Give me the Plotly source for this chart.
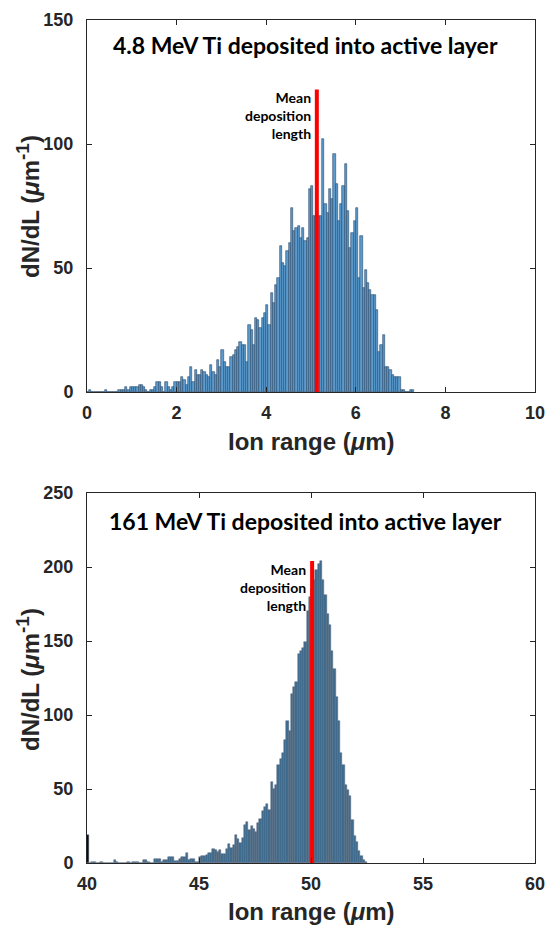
import numpy as np
import plotly.graph_objects as go

# ---------------- data ----------------
# Top panel: 4.8 MeV Ti, bins of 0.05 um starting at 0
top_bin_start = 0.0
top_bin_width = 0.05
top_values = [
    0, 1, 0, 0, 0, 0, 0, 0, 1, 0,
    0, 0, 0, 0, 1, 1, 1, 2, 1, 2,
    2, 2, 2, 3, 3, 2, 1, 0, 1, 1,
    2, 4, 4, 2, 0, 4, 2, 1, 2, 4,
    4, 4, 6, 5, 3, 6, 10, 4, 9, 7,
    7, 9, 8, 7, 6, 11, 8, 7, 13, 10,
    17, 12, 10, 10, 14, 15, 17, 18, 20, 19,
    19, 12, 27, 25, 19, 30, 29, 26, 30, 32,
    35, 27, 40, 36, 43, 46, 59, 52, 51, 57,
    60, 74, 65, 66, 67, 62, 66, 61, 62, 82,
    83, 71, 71, 71, 71, 102, 76, 72, 82, 78,
    96, 84, 69, 76, 83, 92, 73, 58, 64, 69,
    74, 46, 63, 42, 49, 44, 41, 39, 39, 33,
    16, 19, 23, 10, 10, 9, 7, 6, 6, 6,
    1, 1, 0, 0, 1, 1,
]
top_mean = 5.13
top_mean_height = 122

# Bottom panel: 161 MeV Ti, bins of 0.1 um starting at 40
bot_bin_start = 40.0
bot_bin_width = 0.1
bot_values = [
    19, 0, 1, 1, 0, 0, 1, 0, 0, 0,
    0, 0, 2, 1, 0, 0, 0, 0, 1, 0,
    1, 1, 1, 0, 0, 2, 2, 1, 0, 0,
    2.5, 2.5, 2.5, 1, 2, 2, 4, 4, 4, 1.5,
    1.5, 2.5, 4, 4, 6.5, 2, 2.5, 2.5, 1, 1,
    4, 4.7, 4.7, 5.4, 6.5, 6.5, 9.7, 8.8, 7.7, 8.8,
    6, 6, 9.2, 12.8, 10, 12, 19, 16, 13.7, 16.7,
    26, 28, 22, 25, 23, 21, 27, 30, 35, 38,
    40, 36, 55, 50, 53, 66, 70, 74, 83, 96,
    89, 114, 119, 122, 141, 143, 145, 149, 170, 180,
    185, 191, 198, 202, 204, 191, 181, 168, 161, 143,
    131, 112, 96, 74, 66, 53, 49, 45, 29, 18,
    14, 8, 4.5, 2.3, 1,
]
bot_mean = 50.05
bot_mean_height = 204

top_title = "4.8 MeV Ti deposited into active layer"
bot_title = "161 MeV Ti deposited into active layer"
mean_label = "Mean<br>deposition<br>length"
x_title = "Ion range (<i>\u03bc</i>m)"
y_title = ("dN/dL (<i>\u03bc</i>m<sup><span style='font-size:19px'>-1</span></sup>)")

top_xticks = [0, 2, 4, 6, 8, 10]
top_yticks = [0, 50, 100, 150]
bot_xticks = [40, 45, 50, 55, 60]
bot_yticks = [0, 50, 100, 150, 200, 250]

# ---------------- figure ----------------
top_x = top_bin_start + top_bin_width * (np.arange(len(top_values)) + 0.5)
bot_x = bot_bin_start + bot_bin_width * (np.arange(len(bot_values)) + 0.5)

bot_colors = ["#3f6d90"] * len(bot_values)
bot_colors[0] = "#000000"

fig = go.Figure()
fig.add_trace(go.Bar(
    x=top_x, y=top_values, width=top_bin_width,
    marker=dict(color="#5b9bd0", line=dict(color="#2a4866", width=0.6)),
    xaxis="x", yaxis="y", showlegend=False,
))
fig.add_trace(go.Scatter(
    x=[top_mean, top_mean], y=[0, top_mean_height], mode="lines",
    line=dict(color="#ff0000", width=4), xaxis="x", yaxis="y", showlegend=False,
))
fig.add_trace(go.Bar(
    x=bot_x, y=bot_values, width=bot_bin_width,
    marker=dict(color=bot_colors, line=dict(color="#56677a", width=0.5)),
    xaxis="x2", yaxis="y2", showlegend=False,
))
fig.add_trace(go.Scatter(
    x=[bot_mean, bot_mean], y=[0, bot_mean_height], mode="lines",
    line=dict(color="#ff0000", width=4), xaxis="x2", yaxis="y2", showlegend=False,
))

W, H = 550, 926
ml, mr, mt, mb = 87, 15, 20, 63
ph = H - mt - mb
pw = W - ml - mr
top_dom = [(863 - 392) / ph, 1.0]
bot_dom = [0.0, (863 - 493) / ph]

tickfont = dict(family="Liberation Sans, Arial", size=18, color="#262626")
axis_common = dict(
    showline=True, mirror="ticks", linecolor="#262626", linewidth=1,
    ticks="inside", ticklen=5, tickcolor="#262626", tickwidth=1,
    showgrid=False, zeroline=False, tickfont=tickfont, automargin=False,
)
xax = dict(ticklabelstandoff=4, **axis_common)
yax = dict(ticklabelstandoff=9, **axis_common)

fig.update_layout(
    width=W, height=H, autosize=False,
    margin=dict(l=ml, r=mr, t=mt, b=mb, autoexpand=False),
    plot_bgcolor="white", paper_bgcolor="white",
    bargap=0,
    font=dict(family="Liberation Sans, Arial"),
    xaxis=dict(domain=[0, 1], anchor="y", range=[0, 10], tickvals=top_xticks,
               ticktext=[f"<b>{v}</b>" for v in top_xticks], **xax),
    yaxis=dict(domain=top_dom, anchor="x", range=[0, 150], tickvals=top_yticks,
               ticktext=[f"<b>{v}</b>" for v in top_yticks], **yax),
    xaxis2=dict(domain=[0, 1], anchor="y2", range=[40, 60], tickvals=bot_xticks,
                ticktext=[f"<b>{v}</b>" for v in bot_xticks], **xax),
    yaxis2=dict(domain=bot_dom, anchor="x2", range=[0, 250], tickvals=bot_yticks,
                ticktext=[f"<b>{v}</b>" for v in bot_yticks], **yax),
)

def py(Y):
    return (863 - Y) / ph

def px(X):
    return (X - ml) / pw

title_font = dict(family="Lato", size=23, color="black")
label_font = dict(family="Lato", size=14, color="black")
xtitle_font = dict(family="Liberation Sans, Arial", size=24, color="#262626")
ytitle_font = dict(family="Liberation Sans, Arial", size=24, color="#262626")

ann = []
ann.append(dict(x=px(305), y=py(45), xref="paper", yref="paper", text=f"<b>{top_title}</b>",
                showarrow=False, font=title_font, xanchor="center", yanchor="middle"))
ann.append(dict(x=px(305), y=py(521), xref="paper", yref="paper", text=f"<b>{bot_title}</b>",
                showarrow=False, font=title_font, xanchor="center", yanchor="middle"))
ann.append(dict(x=top_mean, y=top_mean_height, xref="x", yref="y", text=f"<b>{mean_label}</b>",
                showarrow=False, font=label_font, xanchor="right", yanchor="top", align="right",
                xshift=-4, yshift=2))
ann.append(dict(x=bot_mean, y=bot_mean_height, xref="x2", yref="y2", text=f"<b>{mean_label}</b>",
                showarrow=False, font=label_font, xanchor="right", yanchor="top", align="right",
                xshift=-4, yshift=2))
ann.append(dict(x=0.5, y=py(442), xref="paper", yref="paper", text=f"<b>{x_title}</b>",
                showarrow=False, font=xtitle_font, xanchor="center", yanchor="middle"))
ann.append(dict(x=0.5, y=py(911), xref="paper", yref="paper", text=f"<b>{x_title}</b>",
                showarrow=False, font=xtitle_font, xanchor="center", yanchor="middle"))
ann.append(dict(x=px(28), y=py(207), xref="paper", yref="paper", text=f"<b>{y_title}</b>",
                showarrow=False, font=ytitle_font, xanchor="center", yanchor="middle", textangle=-90))
ann.append(dict(x=px(28), y=py(680), xref="paper", yref="paper", text=f"<b>{y_title}</b>",
                showarrow=False, font=ytitle_font, xanchor="center", yanchor="middle", textangle=-90))
fig.update_layout(annotations=ann)

fig.write_html(
    "out.html",
    config={"responsive": False, "displayModeBar": False},
    post_script="document.body.style.margin='0';document.documentElement.style.overflow='hidden';",
)
